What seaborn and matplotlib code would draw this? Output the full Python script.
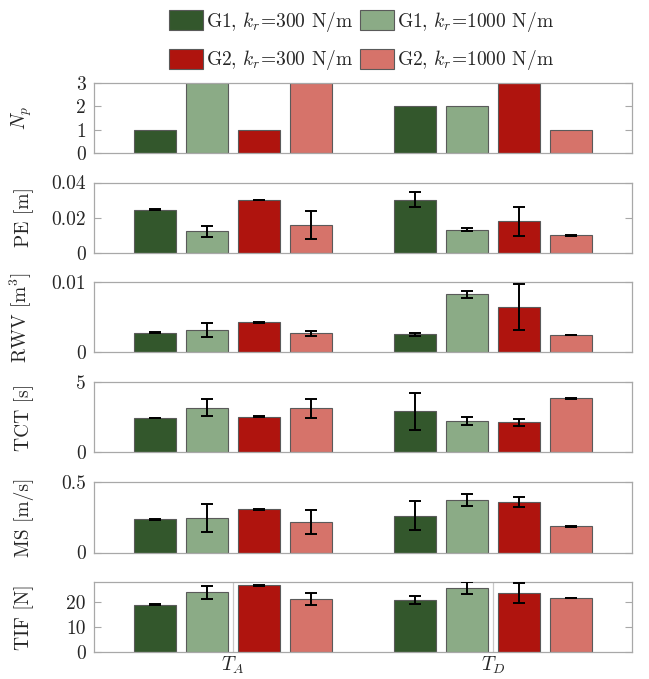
import numpy as np
import pandas as pd
import seaborn as sns
import matplotlib.pyplot as plt
from matplotlib.container import BarContainer

sns.set_style("white")
plt.rcParams['font.family'] = ['cmr10', 'DejaVu Serif']
plt.rcParams['mathtext.fontset'] = 'cm'
plt.rcParams['axes.formatter.use_mathtext'] = True

# donnees, une ligne par configuration : [T_A, T_D]
trials = ['$T_A$', '$T_D$']
configs = ['G1, $k_r$=300 N/m', 'G1, $k_r$=1000 N/m',
           'G2, $k_r$=300 N/m', 'G2, $k_r$=1000 N/m']
colors = ['#33572c', '#8bab86', '#af140e', '#d6736a']

np_mean = [[1, 2], [3, 2], [1, 3], [3, 1]]

pe_mean = [[0.0245, 0.0303], [0.0121, 0.0131], [0.0300, 0.0178], [0.0159, 0.0099]]
pe_err = [[0.0002, 0.0042], [0.0030, 0.0010], [0.0002, 0.0084], [0.0079, 0.0002]]

rwv_mean = [[0.0028, 0.0026], [0.0032, 0.0083], [0.0043, 0.0065], [0.0027, 0.0025]]
rwv_err = [[0.00005, 0.0002], [0.0010, 0.0005], [0.00005, 0.0033], [0.0003, 0.00005]]

tct_mean = [[2.46, 2.94], [3.20, 2.24], [2.54, 2.16], [3.15, 3.86]]
tct_err = [[0.03, 1.34], [0.63, 0.26], [0.03, 0.24], [0.69, 0.03]]

ms_mean = [[0.237, 0.263], [0.244, 0.374], [0.308, 0.360], [0.218, 0.187]]
ms_err = [[0.003, 0.104], [0.100, 0.043], [0.003, 0.035], [0.085, 0.003]]

tif_mean = [[18.9, 20.7], [23.8, 25.6], [26.6, 23.6], [21.2, 21.6]]
tif_err = [[0.15, 1.7], [2.7, 2.45], [0.15, 3.95], [2.55, 0.15]]

panels = [
    (r'$N_p$', np_mean, None, [0, 1, 2, 3], ['0', '1', '2', '3'], 3),
    ('PE [m]', pe_mean, pe_err, [0, 0.02, 0.04], ['0', '0.02', '0.04'], 0.04),
    ('RWV [m$^3$]', rwv_mean, rwv_err, [0, 0.01], ['0', '0.01'], 0.01),
    ('TCT [s]', tct_mean, tct_err, [0, 5], ['0', '5'], 5),
    ('MS [m/s]', ms_mean, ms_err, [0, 0.5], ['0', '0.5'], 0.5),
    ('TIF [N]', tif_mean, tif_err, [0, 10, 20], ['0', '10', '20'], 28),
]

fig = plt.figure(figsize=(6.49, 6.79), dpi=100)
bottoms = [0.7747, 0.628, 0.481, 0.3336, 0.1863, 0.0398]
grey = '#a8a8a8'

for i, (label, mean, err, ticks, ticklabels, ymax) in enumerate(panels):
    ax = fig.add_axes([0.1448, bottoms[i], 0.829, 0.1032])
    rows = []
    for c, cfg in enumerate(configs):
        for t, tr in enumerate(trials):
            rows.append({'trial': tr, 'config': cfg, 'value': mean[c][t]})
    df = pd.DataFrame(rows)

    if i == len(panels) - 1:
        for xc in range(len(trials)):
            ax.axvline(xc, color='#c8c8c8', lw=0.9, zorder=0)

    sns.barplot(data=df, x='trial', y='value', hue='config', hue_order=configs,
                order=trials, palette=colors, saturation=1, width=0.8, gap=0.19,
                edgecolor='#5a5a5a', linewidth=0.8, errorbar=None,
                legend=(i == 0), ax=ax, zorder=2)

    if err is not None:
        bars = [cont for cont in ax.containers if isinstance(cont, BarContainer)]
        for c, cont in enumerate(bars):
            for t, bar in enumerate(cont):
                xc = bar.get_x() + bar.get_width() / 2
                ax.errorbar(xc, bar.get_height(), yerr=err[c][t], color='black',
                            lw=1.4, capsize=4.6, capthick=1.4, zorder=3)

    ax.set_xlim(-0.535, 1.535)
    ax.set_ylim(0, ymax)
    ax.set_yticks(ticks)
    ax.set_yticklabels(ticklabels)
    ax.set_ylabel(label, fontsize=14)
    ax.yaxis.set_label_coords(-0.112, 0.5)
    ax.set_xlabel('')
    ax.tick_params(axis='y', direction='in', length=5, width=0.8, color=grey,
                   labelsize=14, pad=6, right=True, left=True)
    if i == len(panels) - 1:
        ax.tick_params(axis='x', direction='in', length=0, labelsize=14, pad=2)
    else:
        ax.tick_params(axis='x', length=0, labelbottom=False)
    for sp in ax.spines.values():
        sp.set_color(grey)
        sp.set_linewidth(0.9)

    if i == 0:
        handles, labels = ax.get_legend_handles_labels()
        ax.get_legend().remove()
        # ordre ligne par ligne : G1 en haut, G2 en bas
        order = [0, 2, 1, 3]
        fig.legend([handles[k] for k in order], [labels[k] for k in order],
                   ncol=2, loc='upper center',
                   bbox_to_anchor=(0.557, 1.0), frameon=False, fontsize=14,
                   handlelength=1.75, handleheight=1.2, handletextpad=0.15,
                   columnspacing=0.35, labelspacing=0.75, borderaxespad=0.1)

fig.savefig('out.png', dpi=100)
